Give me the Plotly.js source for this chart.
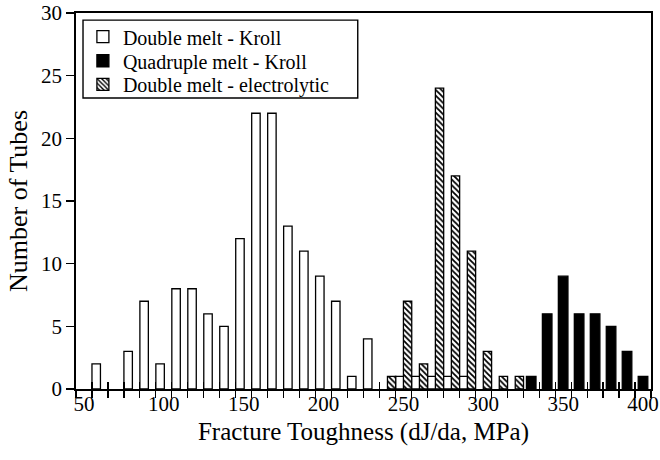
<!DOCTYPE html>
<html>
<head>
<meta charset="utf-8">
<script src="https://cdn.plot.ly/plotly-3.0.1.min.js"></script>
<style>html,body{margin:0;padding:0;background:#fff;}#chart{width:660px;height:460px;}</style>
</head>
<body>
<div id="chart"></div>
<script>
// Bin start values (MPa) and counts for each material
const doubleKrollX = [55,75,85,95,105,115,125,135,145,155,165,175,185,195,205,215,225,245,255,265,275,285];
const doubleKrollY = [2,3,7,2,8,8,6,5,12,22,22,13,11,9,7,1,4,1,1,1,1,1];
const electroX = [240,250,260,270,280,290,300,310,320];
const electroY = [1,7,2,24,17,11,3,1,1];
const quadKrollX = [330,340,350,360,370,380,390,400];
const quadKrollY = [1,6,9,6,6,5,3,1];
const seriesNames = ['Double melt - Kroll','Quadruple melt - Kroll','Double melt - electrolytic'];
const xLabelVals = [50,100,150,200,250,300,350,400];
const binEdges = [];
for (let v = 45; v <= 405; v += 10) binEdges.push(v);

const font = 'Liberation Serif, Times New Roman, serif';
const outline = {color:'#000', width:1.3};

const traces = [
  {type:'bar', name:seriesNames[0], x:doubleKrollX, y:doubleKrollY, width:5.3, offset:0, legend:'legend',
   marker:{color:'#fff', line:outline}},
  {type:'bar', name:seriesNames[1], x:quadKrollX, y:quadKrollY, width:6, offset:-3, legend:'legend2',
   marker:{color:'#000', line:outline}},
  {type:'bar', name:seriesNames[2], x:electroX, y:electroY, width:5.2, offset:0, legend:'legend3',
   marker:{color:'#fff', line:outline, pattern:{shape:'\\', fgcolor:'#000', bgcolor:'#fff', size:4, solidity:0.45}}},
  {type:'scatter', x:[], y:[], xaxis:'x2', showlegend:false, hoverinfo:'skip'},
  {type:'scatter', x:[], y:[], xaxis:'x3', showlegend:false, hoverinfo:'skip'}
];

function legendRow(yc) {
  return {x:0.012, y:yc, xanchor:'left', yanchor:'middle', bgcolor:'rgba(0,0,0,0)', borderwidth:0,
          font:{family:font, size:20, color:'#000'}, itemwidth:30};
}

const layout = {
  width:660, height:460,
  margin:{l:76, r:9, t:13, b:71},
  paper_bgcolor:'#fff', plot_bgcolor:'#fff',
  barmode:'overlay',
  font:{family:font, color:'#000', size:20},
  showlegend:true,
  legend:legendRow(0.937),
  legend2:legendRow(0.873),
  legend3:legendRow(0.810),
  shapes:[{type:'rect', xref:'paper', yref:'paper', x0:0.0122, x1:0.490, y0:0.774, y1:0.981,
           fillcolor:'#fff', line:{color:'#000', width:1.4}, layer:'above'}],
  xaxis:{range:[45,405], tickmode:'array', tickvals:binEdges, ticktext:binEdges.map(()=>''),
         ticks:'outside', ticklen:7, tickwidth:1.2, tickcolor:'#000',
         showline:true, linecolor:'#000', linewidth:1.8, mirror:true, showgrid:false, zeroline:false},
  xaxis2:{overlaying:'x', anchor:'y', range:[45,405], tickmode:'array', tickvals:xLabelVals,
          ticks:'', showline:false, showgrid:false, zeroline:false,
          tickfont:{family:font, size:21, color:'#000'}, side:'bottom',
          title:{text:'Fracture Toughness (dJ/da, MPa)', font:{family:font, size:25}, standoff:7}},
  xaxis3:{overlaying:'x', anchor:'y', range:[45,405], tickmode:'array', tickvals:binEdges,
          ticks:'inside', ticklen:7, tickwidth:1.2, tickcolor:'#000', showticklabels:false,
          showline:false, showgrid:false, zeroline:false, side:'bottom'},
  yaxis:{range:[0,30], tickmode:'linear', tick0:0, dtick:5, ticks:'outside', ticklen:8, tickwidth:1.2, tickcolor:'#000',
         showline:true, linecolor:'#000', linewidth:1.8, mirror:true, showgrid:false, zeroline:false,
         tickfont:{family:font, size:21, color:'#000'},
         title:{text:'Number of Tubes', font:{family:font, size:26}, standoff:6}}
};

Plotly.newPlot('chart', traces, layout, {displayModeBar:false, staticPlot:true});
</script>
</body>
</html>
